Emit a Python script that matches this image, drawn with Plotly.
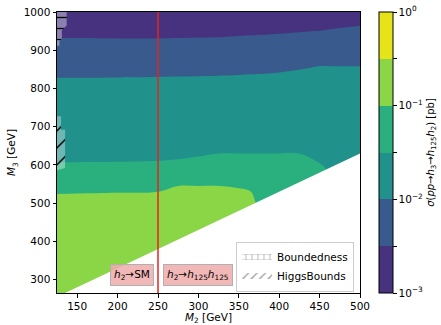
import plotly.graph_objects as go

# ---------------- data ----------------
m2_grid = [125, 150, 200, 250, 275, 300, 325, 350, 365, 375, 400, 425, 450, 475, 500]
m3_grid = [250, 300, 350, 400, 450, 500, 550, 600, 650, 700, 750, 800, 850, 900, 950, 1000]

# log10(sigma / pb) per M2 column, listed along m3_grid
log_sigma_m2_125 = [-0.62, -0.66, -0.70, -0.74, -0.80, -0.88, -1.13, -1.465, -1.715, -1.74, -1.75, -1.86, -2.11, -2.34, -2.59, -2.75]
log_sigma_m2_150 = [-0.62, -0.66, -0.70, -0.74, -0.80, -0.875, -1.125, -1.465, -1.715, -1.74, -1.75, -1.86, -2.11, -2.34, -2.59, -2.75]
log_sigma_m2_200 = [-0.62, -0.66, -0.70, -0.74, -0.80, -0.865, -1.115, -1.46, -1.71, -1.74, -1.75, -1.855, -2.105, -2.345, -2.595, -2.75]
log_sigma_m2_250 = [-0.62, -0.66, -0.70, -0.74, -0.80, -0.85, -1.10, -1.445, -1.695, -1.74, -1.75, -1.85, -2.10, -2.345, -2.595, -2.75]
log_sigma_m2_275 = [-0.62, -0.66, -0.70, -0.73, -0.76, -0.775, -1.025, -1.425, -1.675, -1.72, -1.75, -1.845, -2.095, -2.34, -2.59, -2.75]
log_sigma_m2_300 = [-0.62, -0.66, -0.70, -0.73, -0.76, -0.775, -1.025, -1.39, -1.64, -1.70, -1.75, -1.84, -2.09, -2.335, -2.585, -2.75]
log_sigma_m2_325 = [-0.62, -0.66, -0.70, -0.73, -0.76, -0.775, -1.025, -1.35, -1.60, -1.68, -1.74, -1.835, -2.085, -2.33, -2.58, -2.75]
log_sigma_m2_350 = [-0.62, -0.66, -0.70, -0.74, -0.78, -0.805, -1.055, -1.35, -1.60, -1.68, -1.74, -1.825, -2.075, -2.315, -2.565, -2.75]
log_sigma_m2_365 = [-0.62, -0.66, -0.70, -0.74, -0.80, -0.85, -1.10, -1.35, -1.60, -1.68, -1.74, -1.815, -2.065, -2.305, -2.555, -2.75]
log_sigma_m2_375 = [-0.62, -0.66, -0.70, -0.76, -0.85, -1.10, -1.25, -1.35, -1.60, -1.68, -1.74, -1.81, -2.06, -2.30, -2.55, -2.75]
log_sigma_m2_400 = [-0.62, -0.66, -0.70, -0.78, -0.90, -1.15, -1.25, -1.35, -1.60, -1.68, -1.74, -1.79, -2.04, -2.285, -2.535, -2.75]
log_sigma_m2_425 = [-0.62, -0.66, -0.70, -0.78, -0.90, -1.15, -1.25, -1.35, -1.60, -1.66, -1.72, -1.755, -2.005, -2.265, -2.515, -2.75]
log_sigma_m2_450 = [-0.62, -0.66, -0.70, -0.78, -0.90, -1.15, -1.25, -1.475, -1.725, -1.78, -1.82, -1.88, -1.96, -2.21, -2.495, -2.745]
log_sigma_m2_475 = [-0.62, -0.66, -0.70, -0.78, -0.90, -1.15, -1.45, -1.70, -1.74, -1.78, -1.82, -1.88, -1.96, -2.21, -2.46, -2.71]
log_sigma_m2_500 = [-0.62, -0.66, -0.70, -0.78, -0.90, -1.15, -1.40, -1.65, -1.72, -1.78, -1.82, -1.88, -1.96, -2.21, -2.43, -2.68]

# kinematic threshold (M3 < M1 + M2 not allowed) -> white region
threshold_m2 = [125, 500]
threshold_m3 = [255, 630]

# excluded regions
bounded_m2 = [125, 137, 137, 131, 131, 128, 128, 125]
bounded_m3 = [1000, 1000, 965, 952, 930, 925, 912, 912]
higgsbounds_m2 = [125, 130, 130, 135, 135, 125]
higgsbounds_m3 = [727, 727, 692, 692, 592, 586]

# decay threshold h2 -> h125 h125
decay_threshold_m2 = 250

# colour levels (log10 pb) and tick labels
level_edges = [-3, -2.5, -2, -1.5, -1, -0.5, 0]
level_colors = ["#46327e", "#385a8c", "#21918c", "#2ab07f", "#8bd646", "#e5e419"]
cbar_tickvals = [-3, -2.5, -2, -1.5, -1, -0.5, 0]
cbar_ticktext = ["10<sup>\u22123</sup>", "", "10<sup>\u22122</sup>", "",
                 "10<sup>\u22121</sup>", "", "10<sup>0</sup>"]
x_ticks = [150, 200, 250, 300, 350, 400, 450, 500]
y_ticks = [300, 400, 500, 600, 700, 800, 900, 1000]

# ---------------- figure ----------------
columns = [log_sigma_m2_125, log_sigma_m2_150, log_sigma_m2_200, log_sigma_m2_250,
           log_sigma_m2_275, log_sigma_m2_300, log_sigma_m2_325, log_sigma_m2_350,
           log_sigma_m2_365, log_sigma_m2_375, log_sigma_m2_400, log_sigma_m2_425,
           log_sigma_m2_450, log_sigma_m2_475, log_sigma_m2_500]
z = [list(row) for row in zip(*columns)]

zmin, zmax = level_edges[0], level_edges[-1]
n = len(level_colors)
colorscale = []
for i, c in enumerate(level_colors):
    colorscale.append([i / n, c])
    colorscale.append([(i + 1) / n, c])

FONT = "DejaVu Sans"
fig = go.Figure()
fig.add_trace(go.Contour(
    x=m2_grid, y=m3_grid, z=z,
    autocontour=False,
    contours=dict(start=zmin, end=zmax, size=0.5, coloring="fill", showlines=False),
    line=dict(width=0),
    colorscale=colorscale, zmin=zmin, zmax=zmax,
    showscale=True,
    colorbar=dict(
        x=1.063, xanchor="left", xpad=0, ypad=0,
        y=0.5, yanchor="middle", len=1.0, lenmode="fraction",
        thickness=14, outlinecolor="black", outlinewidth=1,
        tickmode="array", tickvals=cbar_tickvals, ticktext=cbar_ticktext,
        ticks="outside", ticklen=3.5, tickcolor="black",
        tickfont=dict(family=FONT, size=10.5, color="black"),
        title=dict(
            text="<i>\u03c3</i>(<i>pp</i>\u2192<i>h</i><sub>3</sub>\u2192<i>h</i><sub>125</sub><i>h</i><sub>2</sub>) [pb]",
            side="right", font=dict(family=FONT, size=10, color="black")),
    ),
    hoverinfo="skip",
))

# white kinematically forbidden region
fig.add_trace(go.Scatter(
    x=[threshold_m2[0]] + threshold_m2 + [threshold_m2[-1]],
    y=[m3_grid[0]] + threshold_m3 + [m3_grid[0]],
    fill="toself", mode="none", fillcolor="white",
    showlegend=False, hoverinfo="skip",
))

# hatched exclusions
fig.add_trace(go.Scatter(
    x=bounded_m2, y=bounded_m3, fill="toself", mode="none",
    fillcolor="rgba(255,255,255,0.35)",
    fillpattern=dict(shape="-", fgcolor="black", fgopacity=1, bgcolor="rgba(255,255,255,0.38)",
                     fillmode="replace", size=11, solidity=0.12),
    showlegend=False, hoverinfo="skip",
))
fig.add_trace(go.Scatter(
    x=higgsbounds_m2, y=higgsbounds_m3, fill="toself", mode="none",
    fillcolor="rgba(255,255,255,0.35)",
    fillpattern=dict(shape="/", fgcolor="black", fgopacity=1, bgcolor="rgba(255,255,255,0.35)",
                     fillmode="replace", size=12, solidity=0.12),
    showlegend=False, hoverinfo="skip",
))
# legend proxies
fig.add_trace(go.Scatter(
    x=[None], y=[None], fill="toself", mode="none", name="Boundedness",
    fillcolor="white",
    fillpattern=dict(shape="+", fgcolor="#aaaaaa", fgopacity=1, bgcolor="white",
                     fillmode="replace", size=6, solidity=0.25),
))
fig.add_trace(go.Scatter(
    x=[None], y=[None], fill="toself", mode="none", name="HiggsBounds",
    fillcolor="white",
    fillpattern=dict(shape="/", fgcolor="#aaaaaa", fgopacity=1, bgcolor="white",
                     fillmode="replace", size=6, solidity=0.25),
))

fig.add_shape(type="line", xref="x", yref="paper",
              x0=decay_threshold_m2, x1=decay_threshold_m2, y0=0, y1=1,
              line=dict(color="#e8231e", width=1.5))

box = dict(bgcolor="rgba(240,170,170,0.85)", bordercolor="#b0b0b0", borderwidth=1,
           borderpad=3, font=dict(family=FONT, size=10.5, color="black"),
           showarrow=False, xref="x", yref="y")
fig.add_annotation(x=218, y=313, text="<i>h</i><sub>2</sub>\u2192SM", **box)
fig.add_annotation(x=300, y=313,
                   text="<i>h</i><sub>2</sub>\u2192<i>h</i><sub>125</sub><i>h</i><sub>125</sub>", **box)

axis_common = dict(showgrid=False, zeroline=False, showline=True, linecolor="black",
                   linewidth=1, mirror=True, ticks="outside", ticklen=3.5,
                   tickcolor="black", automargin=False,
                   tickfont=dict(family=FONT, size=10.5, color="black"))
fig.update_xaxes(range=[125, 500], tickvals=x_ticks,
                 title=dict(text="<i>M</i><sub>2</sub> [GeV]", standoff=4,
                            font=dict(family=FONT, size=10.5, color="black")),
                 **axis_common)
fig.update_yaxes(range=[265, 1000], tickvals=y_ticks,
                 title=dict(text="<i>M</i><sub>3</sub> [GeV]", standoff=5,
                            font=dict(family=FONT, size=10.5, color="black")),
                 **axis_common)

fig.update_layout(
    width=441, height=325,
    margin=dict(l=57, r=81, t=12, b=32, autoexpand=False),
    paper_bgcolor="white", plot_bgcolor="white",
    font=dict(family=FONT, size=10.5, color="black"),
    legend=dict(x=0.98, y=0.005, xanchor="right", yanchor="bottom",
                bgcolor="rgba(255,255,255,0.9)", bordercolor="#cccccc", borderwidth=1,
                font=dict(family=FONT, size=10.5, color="black"),
                itemwidth=30, tracegroupgap=0),
)

fig.write_html("out.html")
